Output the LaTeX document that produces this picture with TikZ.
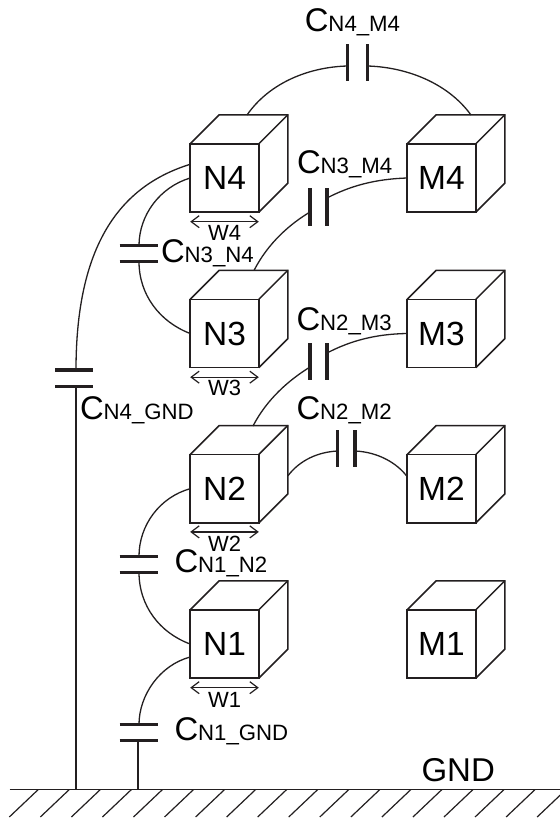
\documentclass[tikz,border=0pt]{standalone}
\usepackage{fontspec}
\setmainfont{Liberation Sans}
\usetikzlibrary{arrows.meta,calc}
\definecolor{ink}{HTML}{231F20}
\newcommand{\capl}[2]{{\fontsize{32.8}{33}\selectfont C}{\fontsize{22.2}{23}\selectfont #1\_#2}}
\tikzset{
  cubebox/.style={rectangle,draw=ink,line width=1.5pt,minimum width=68.6pt,minimum height=68.4pt,inner sep=0pt,outer sep=0pt,font=\fontsize{33.5}{34}\selectfont},
  cubeedge/.style={draw=ink,line width=1.5pt,line join=miter},
  wire/.style={draw=ink,line width=1.3pt},
  plate/.style={draw=ink,line width=3.3pt},
  caplabel/.style={anchor=base west,inner sep=0pt,outer sep=0pt,text=black},
  widtharrow/.style={draw=ink,line width=1.2pt,{Straight Barb[length=8pt,width=12pt]}-{Straight Barb[length=8pt,width=12pt]}},
  widthlabel/.style={anchor=base,inner sep=0pt,font=\fontsize{22}{23}\selectfont},
  hatchline/.style={draw=ink,line width=1.2pt},
}
\newcommand{\cubeat}[3]{%
  \node[cubebox] (#1) at (#2,#3) {#1};
  \draw[cubeedge] (#1.north west) -- ++(29,-29) -- ++(68.6,0) -- ++(0,68.4) -- (#1.south east);
  \draw[cubeedge] (#1.north east) -- ++(29,-29);
}
\begin{document}
\begin{tikzpicture}[x=1pt,y=-1pt]
\clip (0,0) rectangle (560,820);
\fill[white] (0,0) rectangle (560,820);

% cubes
\cubeat{N4}{224.5}{178}
\cubeat{M4}{441.5}{178}
\cubeat{N3}{224.5}{333.5}
\cubeat{M3}{441.5}{333.5}
\cubeat{N2}{224.5}{488.7}
\cubeat{M2}{441.5}{488.7}
\cubeat{N1}{224.5}{644}
\cubeat{M1}{441.5}{644}

% ground
\coordinate (gndL) at (9.5,789.5);
\coordinate (gndR) at (560,789.5);
\draw[hatchline] (gndL) -- (gndR);
\foreach \i in {0,...,17}{
  \draw[hatchline] ({38.3+31.05*\i},789.5) -- ++(-29,27.5);
}
\node[caplabel,font=\fontsize{33}{34}\selectfont] (gndlabel) at (421.5,781.7) {GND};

% capacitor plates
\coordinate (c4gA) at (76,370);   \coordinate (c4gB) at (76,386.5);
\coordinate (c34A) at (139,245.7);\coordinate (c34B) at (139,261.7);
\coordinate (c12A) at (139,556.3);\coordinate (c12B) at (139,572.3);
\coordinate (c1gA) at (139,724.6);\coordinate (c1gB) at (138,740.6);
\coordinate (c44A) at (347.3,66); \coordinate (c44B) at (367.3,66);
\coordinate (c34mA) at (310,212); \coordinate (c34mB) at (327,198);
\coordinate (c23A) at (310,367);  \coordinate (c23B) at (327,353);
\coordinate (c22A) at (337.7,451);\coordinate (c22B) at (355,451);

\draw[plate] (55,370) -- (93,370);
\draw[plate] (55,386.5) -- (93,386.5);
\draw[plate] (119.5,245.7) -- (157.5,245.7);
\draw[plate] (119.5,261.7) -- (157.5,261.7);
\draw[plate] (119.5,556.3) -- (157.5,556.3);
\draw[plate] (119.5,572.3) -- (157.5,572.3);
\draw[plate] (119.5,724.6) -- (157.5,724.6);
\draw[plate] (119.5,740.6) -- (157.5,740.6);
\draw[plate] (347.3,44) -- (347.3,81);
\draw[plate] (367.3,44) -- (367.3,81);
\draw[plate] (310,188) -- (310,225.5);
\draw[plate] (327,188) -- (327,225.5);
\draw[plate] (310,343) -- (310,380);
\draw[plate] (327,343) -- (327,380);
\draw[plate] (337.7,430) -- (337.7,467);
\draw[plate] (355,430) -- (355,467);

% connectors
\draw[wire] ($(N4.west)+(0,-13.7)$) .. controls (120,186) and (76,245) .. (c4gA);
\draw[wire] (c4gB) -- (76,789.5);
\draw[wire] (N4.west) .. controls (160,187) and (139,215) .. (c34A);
\draw[wire] (N3.west) .. controls (160,322) and (139,295) .. (c34B);
\draw[wire] (N2.west) .. controls (160,497) and (139,525) .. (c12A);
\draw[wire] (N1.west) .. controls (160,633) and (139,606) .. (c12B);
\draw[wire] ($(N1.west)+(0,13)$) .. controls (160,665) and (139,695) .. (c1gA);
\draw[wire] (c1gB) -- (138,789.5);
\draw[wire] (247,115) .. controls (270,82) and (310,67) .. (c44A);
\draw[wire] (471,115) .. controls (447,82) and (405,67) .. (c44B);
\draw[wire] (254,270.5) .. controls (268,243) and (290,224) .. (c34mA);
\draw[wire] (M4.west) .. controls (375,179) and (350,186) .. (c34mB);
\draw[wire] (253,426) .. controls (267,399) and (289,380) .. (c23A);
\draw[wire] (M3.west) .. controls (375,334) and (350,341) .. (c23B);
\draw[wire] (288,475.7) .. controls (300,460) and (318,452) .. (c22A);
\draw[wire] (c22B) .. controls (378,452) and (397,463) .. ($(M2.west)+(0,-12)$);

% width arrows
\draw[widtharrow] ($(N4.south west)+(0,9.5)$) -- ($(N4.south east)+(0,9.5)$);
\draw[widtharrow] ($(N3.south west)+(0,9.5)$) -- ($(N3.south east)+(0,9.5)$);
\draw[widtharrow] ($(N2.south west)+(0,9)$) -- ($(N2.south east)+(0,9)$);
\draw[widtharrow] ($(N1.south west)+(0,9.5)$) -- ($(N1.south east)+(0,9.5)$);
\node[widthlabel] (w4) at (224.5,240.7) {W4};
\node[widthlabel] (w3) at (224.5,395.7) {W3};
\node[widthlabel] (w2) at (224.5,551) {W2};
\node[widthlabel] (w1) at (224.5,707.7) {W1};

% capacitor labels
\node[caplabel] (l44) at (304.8,31) {\capl{N4}{M4}};
\node[caplabel] (l34m) at (297,173.3) {\capl{N3}{M4}};
\node[caplabel] (l34) at (161,262) {\capl{N3}{N4}};
\node[caplabel] (l23) at (296.5,330) {\capl{N2}{M3}};
\node[caplabel] (l22) at (296.5,419) {\capl{N2}{M2}};
\node[caplabel] (l4g) at (80,419.3) {\capl{N4}{GND}};
\node[caplabel] (l12) at (174.5,572.3) {\capl{N1}{N2}};
\node[caplabel] (l1g) at (174.5,740.5) {\capl{N1}{GND}};
\end{tikzpicture}
\end{document}
